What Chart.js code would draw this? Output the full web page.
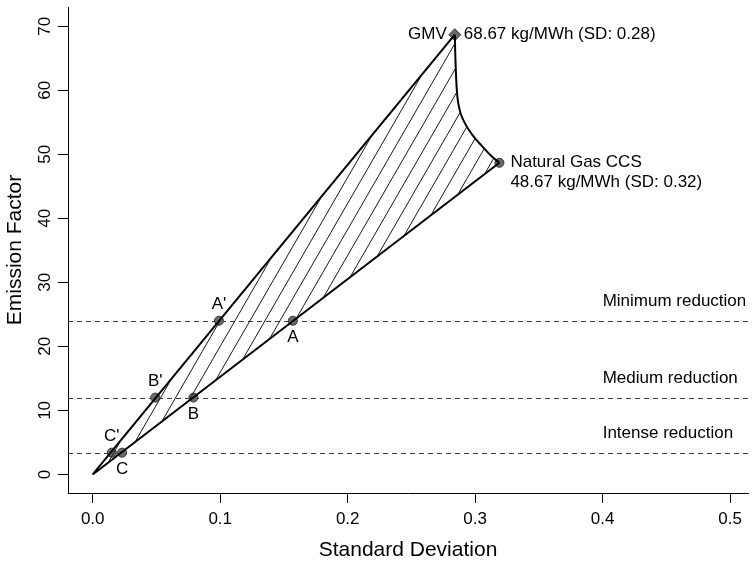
<!DOCTYPE html>
<html>
<head>
<meta charset="utf-8">
<script src="https://cdn.jsdelivr.net/npm/chart.js@4.4.0/dist/chart.umd.min.js"></script>
<style>
  body { margin: 0; background: #fff; }
</style>
</head>
<body>
<canvas id="frontierChart" width="755" height="563"></canvas>
<script>
//axis ticks
var xTicks = [0, 0.1, 0.2, 0.3, 0.4, 0.5];
var yTicks = [0, 10, 20, 30, 40, 50, 60, 70];

//the two end points (GMV and natural gas CCS)
var endNames = ['GMV', 'Natural Gas CCS'];
var endSD = [0.284, 0.319];
var endEF = [68.67, 48.67];

//curve joining GMV to natural gas CCS
var frontierSD = [0.284, 0.2844, 0.2855, 0.2875, 0.2913, 0.2979, 0.3057, 0.3134, 0.319];
var frontierEF = [68.67, 65.5, 60.3, 57.2, 55.1, 53.0, 51.2, 49.6, 48.67];

//reduction targets (dashed lines)
var targetNames = ['Minimum reduction', 'Medium reduction', 'Intense reduction'];
var targetEF = [24, 12, 3.4];

//points where the targets cross the two edges
var crossNames = ["A'", 'A', "B'", 'B', "C'", 'C'];
var crossSD = [0.099, 0.157, 0.049, 0.079, 0.015, 0.023];
var crossEF = [24, 24, 12, 12, 3.4, 3.4];

var fontFamily = '"Liberation Sans", Arial, Helvetica, sans-serif';

//builds a repeating pattern of thin diagonal lines
function makeHatch(ctx) {
    var w = 15, h = 26;
    var c = document.createElement('canvas');
    c.width = w;
    c.height = h;
    var g = c.getContext('2d');
    g.strokeStyle = '#1a1a1a';
    g.lineWidth = 1;
    for (var k = -1; k <= 1; k++) {
        g.beginPath();
        g.moveTo(-w + k * w, 2 * h);
        g.lineTo(2 * w + k * w, -h);
        g.stroke();
    }
    return ctx.createPattern(c, 'repeat');
}

//turns two arrays into {x, y} points
function toPoints(xs, ys) {
    var pts = [];
    for (var i = 0; i < xs.length; i++) {
        pts.push({x: xs[i], y: ys[i]});
    }
    return pts;
}

var ctx = document.getElementById('frontierChart').getContext('2d');

//outline of the hatched region: origin -> GMV -> curve -> natural gas CCS -> origin
var regionData = [{x: 0, y: 0}].concat(toPoints(frontierSD, frontierEF), [{x: 0, y: 0}]);

//draws dashed lines, labels and the rotated y tick labels
var annotations = {
    id: 'annotations',
    beforeDatasetsDraw: function(chart) {
        var c = chart.ctx, ys = chart.scales.y, area = chart.chartArea;
        c.save();
        c.strokeStyle = '#3c3c3c';
        c.lineWidth = 1;
        c.setLineDash([5, 4]);
        targetEF.forEach(function(v) {
            var y = Math.round(ys.getPixelForValue(v)) + 0.5;
            c.beginPath();
            c.moveTo(area.left, y);
            c.lineTo(area.right, y);
            c.stroke();
        });
        c.restore();
    },
    afterDatasetsDraw: function(chart) {
        var c = chart.ctx, xs = chart.scales.x, ys = chart.scales.y;
        c.save();
        c.fillStyle = '#000';
        c.font = '17px ' + fontFamily;
        c.textBaseline = 'middle';

        //GMV label
        var gx = xs.getPixelForValue(endSD[0]), gy = ys.getPixelForValue(endEF[0]);
        c.textAlign = 'right';
        c.fillText(endNames[0], gx - 8, gy);
        c.textAlign = 'left';
        c.fillText(endEF[0].toFixed(2) + ' kg/MWh (SD: ' + endSD[0].toFixed(2) + ')', gx + 9, gy);

        //natural gas CCS label
        var nx = xs.getPixelForValue(endSD[1]), ny = ys.getPixelForValue(endEF[1]);
        c.fillText(endNames[1], nx + 11, ny);
        c.fillText(endEF[1].toFixed(2) + ' kg/MWh (SD: ' + endSD[1].toFixed(2) + ')', nx + 11, ny + 20);

        //target labels
        targetNames.forEach(function(name, i) {
            c.fillText(name, xs.getPixelForValue(0.4), ys.getPixelForValue(targetEF[i]) - 19);
        });

        //crossing point labels, primes above and the others below
        c.textAlign = 'center';
        crossNames.forEach(function(name, i) {
            var off = (i % 2 === 0) ? -16 : 17;
            c.fillText(name, xs.getPixelForValue(crossSD[i]), ys.getPixelForValue(crossEF[i]) + off);
        });

        //y tick labels, rotated like the original
        c.textBaseline = 'alphabetic';
        yTicks.forEach(function(v) {
            c.save();
            c.translate(50, ys.getPixelForValue(v));
            c.rotate(-Math.PI / 2);
            c.fillText(String(v), 0, 0);
            c.restore();
        });
        c.restore();
    }
};

var chart = new Chart(ctx, {
    type: 'line',
    data: {
        datasets: [{
            //hatched region
            data: regionData,
            fill: 'shape',
            backgroundColor: makeHatch(ctx),
            borderColor: 'rgba(0,0,0,0)',
            borderWidth: 0,
            pointRadius: 0,
            tension: 0
        }, {
            //upper edge
            data: [{x: 0, y: 0}, {x: endSD[0], y: endEF[0]}],
            borderColor: '#000',
            borderWidth: 2,
            pointRadius: 0,
            fill: false
        }, {
            //lower edge
            data: [{x: 0, y: 0}, {x: endSD[1], y: endEF[1]}],
            borderColor: '#000',
            borderWidth: 2,
            pointRadius: 0,
            fill: false
        }, {
            //curve between the end points
            data: toPoints(frontierSD, frontierEF),
            borderColor: '#000',
            borderWidth: 2,
            pointRadius: 0,
            cubicInterpolationMode: 'monotone',
            fill: false
        }, {
            //crossing points
            data: toPoints(crossSD, crossEF),
            showLine: false,
            pointRadius: 4.5,
            pointBackgroundColor: '#6b6b6b',
            pointBorderColor: '#333',
            pointBorderWidth: 1
        }, {
            //end points
            data: toPoints(endSD, endEF),
            showLine: false,
            pointStyle: ['rectRot', 'circle'],
            pointRadius: [6, 4.5],
            pointBackgroundColor: '#6b6b6b',
            pointBorderColor: '#333',
            pointBorderWidth: 1
        }]
    },
    options: {
        responsive: false,
        animation: false,
        layout: {padding: {top: 5, right: 0, left: 0, bottom: 0}},
        plugins: {
            legend: {display: false},
            tooltip: {enabled: false}
        },
        scales: {
            x: {
                type: 'linear',
                min: -0.0194,
                max: 0.514,
                afterBuildTicks: function(scale) {
                    scale.ticks = xTicks.map(function(v) { return {value: v}; });
                },
                afterFit: function(scale) { scale.height = 70; },
                grid: {drawOnChartArea: false, drawTicks: true, tickLength: 10, color: '#000'},
                border: {display: true, color: '#000', width: 1},
                ticks: {
                    color: '#000',
                    font: {family: fontFamily, size: 17},
                    padding: 6,
                    maxRotation: 0,
                    autoSkip: false,
                    callback: function(v) { return v.toFixed(1); }
                },
                title: {
                    display: true,
                    text: 'Standard Deviation',
                    color: '#000',
                    font: {family: fontFamily, size: 21},
                    padding: {top: 0, bottom: 0}
                }
            },
            y: {
                type: 'linear',
                min: -2.9,
                max: 73.0,
                afterBuildTicks: function(scale) {
                    scale.ticks = yTicks.map(function(v) { return {value: v}; });
                },
                afterFit: function(scale) { scale.width = 68; },
                grid: {drawOnChartArea: false, drawTicks: true, tickLength: 10, color: '#000'},
                border: {display: true, color: '#000', width: 1},
                ticks: {display: false},
                title: {
                    display: true,
                    text: 'Emission Factor',
                    color: '#000',
                    font: {family: fontFamily, size: 21},
                    padding: {top: 3, bottom: 0}
                }
            }
        }
    },
    plugins: [annotations]
});
</script>
</body>
</html>
